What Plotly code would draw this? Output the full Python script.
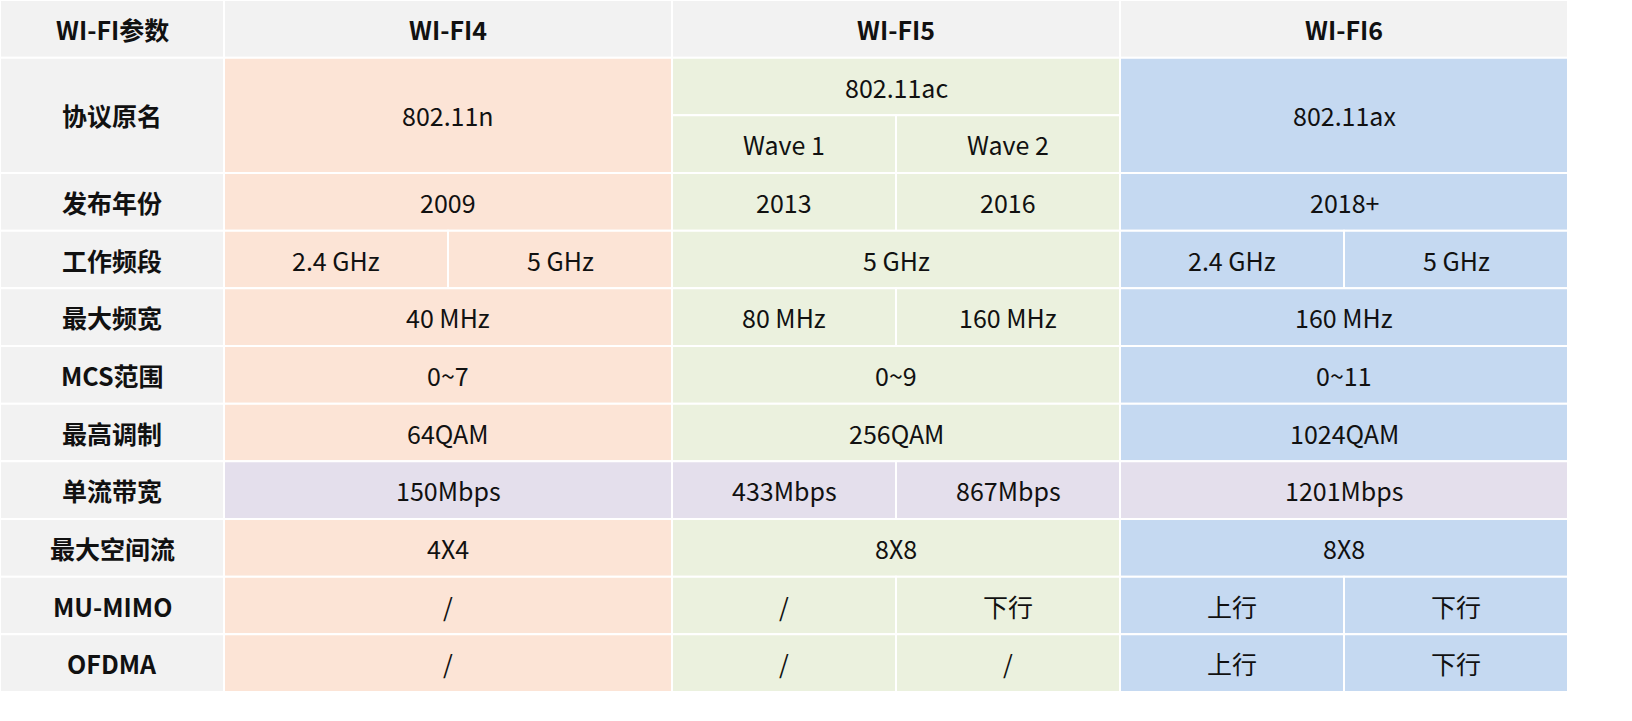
import plotly.graph_objects as go

headers = ["WI-FI参数", "WI-FI4", "WI-FI5", "WI-FI6"]
row_labels = ["协议原名", "发布年份", "工作频段", "最大频宽", "MCS范围", "最高调制",
              "单流带宽", "最大空间流", "MU-MIMO", "OFDMA"]
wifi4 = ["802.11n", "2009", ("2.4 GHz", "5 GHz"), "40 MHz", "0~7", "64QAM",
         "150Mbps", "4X4", "/", "/"]
wifi5 = [("802.11ac", "Wave 1", "Wave 2"), ("2013", "2016"), "5 GHz", ("80 MHz", "160 MHz"),
         "0~9", "256QAM", ("433Mbps", "867Mbps"), "8X8", ("/", "下行"), ("/", "/")]
wifi6 = ["802.11ax", "2018+", ("2.4 GHz", "5 GHz"), "160 MHz", "0~11", "1024QAM",
         "1201Mbps", "8X8", ("上行", "下行"), ("上行", "下行")]
row_spans = [2, 1, 1, 1, 1, 1, 1, 1, 1, 1]

gray = "#f2f2f2"
group_colors = ["#fce4d6", "#ebf1de", "#c5d9f1"]
highlight_row = "单流带宽"
highlight_color = "#e4dfec"

W, H = 1632, 721
ux, uy = 224.0, 57.67
shapes, annos = [], []
font = "Noto Sans CJK SC, Noto Sans, sans-serif"

def cell(x0, x1, y0, y1, color, text, bold=False):
    shapes.append(dict(type="rect", x0=x0, x1=x1, y0=y0, y1=y1, fillcolor=color,
                       line=dict(color="white", width=2), layer="below"))
    annos.append(dict(x=(x0 + x1) / 2, y=(y0 + y1) / 2, text=f"<b>{text}</b>" if bold else text,
                      showarrow=False, font=dict(family=font, size=25, color="#111"),
                      xanchor="center", yanchor="middle"))

cell(0, 1, 0, 1, gray, headers[0], True)
for g in range(3):
    cell(1 + 2 * g, 3 + 2 * g, 0, 1, gray, headers[g + 1], True)

y = 1
for i, lab in enumerate(row_labels):
    h = row_spans[i]
    cell(0, 1, y, y + h, gray, lab, True)
    for g, col in enumerate([wifi4, wifi5, wifi6]):
        color = highlight_color if lab == highlight_row else group_colors[g]
        x0 = 1 + 2 * g
        v = col[i]
        if isinstance(v, tuple) and len(v) == 3:
            cell(x0, x0 + 2, y, y + h / 2, color, v[0])
            cell(x0, x0 + 1, y + h / 2, y + h, color, v[1])
            cell(x0 + 1, x0 + 2, y + h / 2, y + h, color, v[2])
        elif isinstance(v, tuple):
            cell(x0, x0 + 1, y, y + h, color, v[0])
            cell(x0 + 1, x0 + 2, y, y + h, color, v[1])
        else:
            cell(x0, x0 + 2, y, y + h, color, v)
    y += h

fig = go.Figure()
fig.update_layout(width=W, height=H, margin=dict(l=0, r=0, t=0, b=0),
                  plot_bgcolor="white", paper_bgcolor="white",
                  shapes=shapes, annotations=annos, showlegend=False,
                  xaxis=dict(range=[0, W / ux], visible=False, fixedrange=True),
                  yaxis=dict(range=[H / uy, 0], visible=False, fixedrange=True))
fig.write_html("out.html", config={"displayModeBar": False})

with open("out.html", encoding="utf-8") as f:
    html = f.read()
html = html.replace("<head>", "<head><style>html,body{margin:0;padding:0;overflow:hidden}</style>", 1)
with open("out.html", "w", encoding="utf-8") as f:
    f.write(html)
